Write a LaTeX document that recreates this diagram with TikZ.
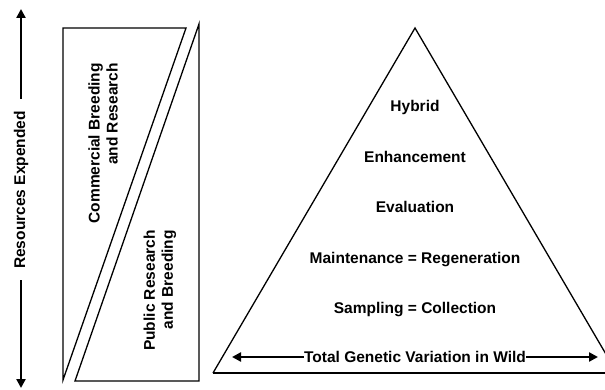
\documentclass[tikz,border=0pt]{standalone}
\usepackage{fontspec}
\setmainfont{Liberation Sans}
\usetikzlibrary{arrows.meta}
\begin{document}
\begin{tikzpicture}[x=1pt,y=-1pt,
  lbl/.style={font=\fontsize{15.5}{18}\selectfont\bfseries, inner sep=0pt},
  shape line/.style={line width=1.3pt},
  thick arrow/.style={line width=2.6pt, -{Triangle[width=9pt,length=9pt]}}]
\useasboundingbox (0,0) rectangle (605,390);
% left split rectangle
\draw[shape line] (63,28) -- (186,28) -- (63,380) -- cycle;
\draw[shape line] (75,381) -- (199,381) -- (199,24) -- cycle;
\node[lbl, rotate=90, anchor=east, align=right] (comm) at (103,63) {Commercial Breeding\\and Research};
\node[lbl, rotate=90, anchor=east, align=right] (pub) at (160,230) {Public Research\\and Breeding};
% resources arrow
\node[lbl, rotate=90] (res) at (21,190) {Resources Expended};
\coordinate (rtop) at (21,9);
\coordinate (rbot) at (21,388);
\draw[thick arrow] ([yshift=12pt]res.east) -- (rtop);
\draw[thick arrow] ([yshift=-11pt]res.west) -- (rbot);
% triangle
\coordinate (apex) at (415,28);
\coordinate (bl) at (213,373);
\coordinate (br) at (617,373);
\draw[shape line] (bl) -- (apex) -- (br);
\draw[line width=1.6pt] (bl) -- (br);
\node[lbl, anchor=base] (hyb) at (415,112) {Hybrid};
\node[lbl, anchor=base] (enh) at (415,163) {Enhancement};
\node[lbl, anchor=base] (eva) at (415,213) {Evaluation};
\node[lbl, anchor=base] (mai) at (415,263) {Maintenance = Regeneration};
\node[lbl, anchor=base] (sam) at (415,313) {Sampling = Collection};
\node[lbl, anchor=base] (tot) at (415,362) {Total Genetic Variation in Wild};
\coordinate (wl) at (232,357);
\coordinate (wr) at (598,357);
\draw[thick arrow] (tot.west |- wl) -- (wl);
\draw[thick arrow] (tot.east |- wr) -- (wr);
\end{tikzpicture}
\end{document}
